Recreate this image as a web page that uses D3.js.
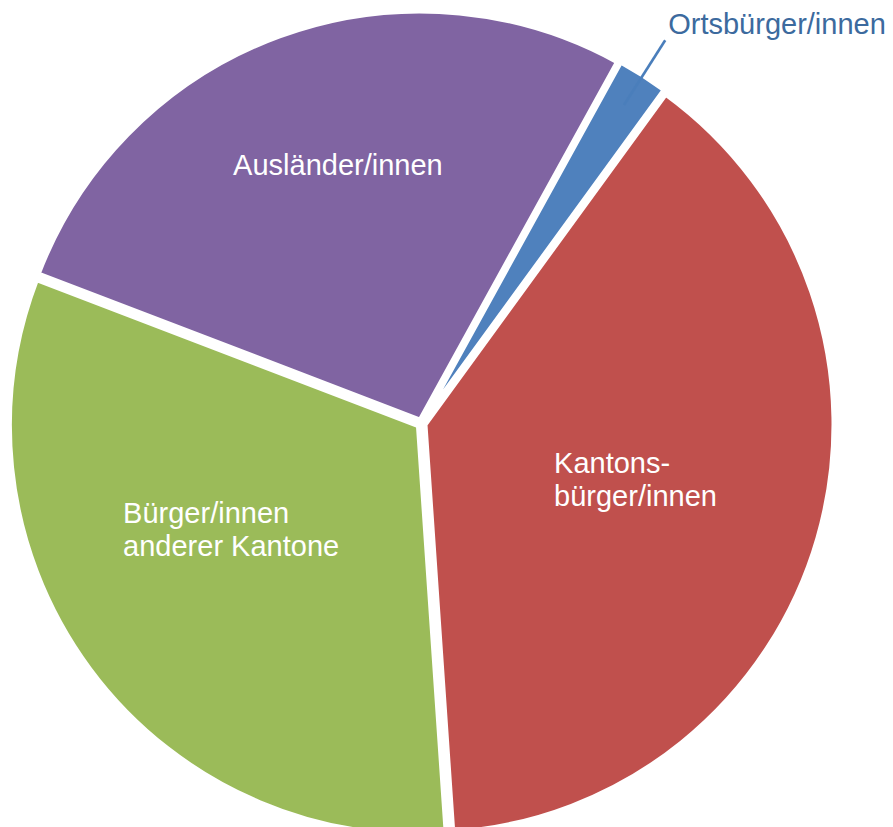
<!DOCTYPE html>
<html>
<head>
<meta charset="utf-8">
<script src="https://cdn.jsdelivr.net/npm/d3@7"></script>
<style>
  html, body { margin: 0; padding: 0; background: #fff; }
  svg { display: block; font-family: "Liberation Sans", Arial, sans-serif; }
</style>
</head>
<body>
<svg id="chart" width="893" height="827"></svg>
<script>
// data (share of population, %)
const categories = ['Ortsbürger/innen', 'Kantonsbürger/innen', 'Bürger/innen anderer Kantone', 'Ausländer/innen'];
const shares = [2.0, 38.9, 31.9, 27.2];
const labelLines = [
  ['Ortsbürger/innen'],
  ['Kantons-', 'bürger/innen'],
  ['Bürger/innen', 'anderer Kantone'],
  ['Ausländer/innen']
];
const colors = ['#4F81BD', '#C0504D', '#9BBB59', '#8064A2'];

class PieChartD3 {
  constructor(svgElement) {
    this.svgElement = svgElement;
    this.cx = 421.4;
    this.cy = 423.5;
    this.radius = 408.5;
    this.explode = 4;        // every slice pulled out a little
    this.fontSize = 29;
    this.lineHeight = 33;
    // label placement: fraction of radius and angle nudge (deg) from slice middle
    this.labelLayout = [
      null,
      { r: 0.542, da: -1.3 },
      { r: 0.533, da: 7.4 },
      { r: 0.665, da: 2.2 }
    ];

    this.svg = d3.select(svgElement)
      .append('g')
      .attr('transform', `translate(${this.cx},${this.cy})`);
  }

  render() {
    const data = categories.map((c, i) => ({ name: c, value: shares[i], lines: labelLines[i], idx: i }));

    const start = 28.86 * Math.PI / 180;
    const pie = d3.pie()
      .sort(null)
      .value(d => d.value)
      .startAngle(start)
      .endAngle(start + 2 * Math.PI);

    this.arcs = pie(data);
    this.color = d3.scaleOrdinal().domain(categories).range(colors);

    const arc = d3.arc().innerRadius(0).outerRadius(this.radius);

    // slices
    this.svg.selectAll('path.slice')
      .data(this.arcs)
      .join('path')
      .attr('class', 'slice')
      .attr('transform', d => {
        const [x, y] = this.polar(this.explode, this.mid(d));
        return `translate(${x},${y})`;
      })
      .attr('d', arc)
      .attr('fill', d => this.color(d.data.name))
      .attr('stroke', '#fff')
      .attr('stroke-width', 4.5)
      .attr('stroke-linejoin', 'miter');

    this.drawInsideLabels();
    this.drawOutsideLabel();
  }

  mid(d) {
    return (d.startAngle + d.endAngle) / 2;
  }

  polar(r, a) {
    return [r * Math.sin(a), -r * Math.cos(a)];
  }

  drawInsideLabels() {
    const inside = this.arcs.filter(d => this.labelLayout[d.data.idx]);

    inside.forEach(d => {
      const lay = this.labelLayout[d.data.idx];
      const a = this.mid(d) + lay.da * Math.PI / 180;
      const [x, y] = this.polar(lay.r * this.radius, a);

      const g = this.svg.append('g').attr('class', 'label');
      const n = d.data.lines.length;
      const baseline0 = y + 10 - (n - 1) * this.lineHeight / 2;

      const texts = g.selectAll('text')
        .data(d.data.lines)
        .join('text')
        .attr('y', (t, i) => baseline0 + i * this.lineHeight)
        .attr('fill', '#fff')
        .style('font-size', `${this.fontSize}px`)
        .text(t => t);

      // left aligned block, centred on the label point
      const maxW = d3.max(texts.nodes(), node => node.getComputedTextLength());
      texts.attr('x', x - maxW / 2);
    });
  }

  drawOutsideLabel() {
    const d = this.arcs[0];
    const a = this.mid(d);
    const [x1, y1] = this.polar(this.radius * 0.924, a);
    const [x2, y2] = this.polar(this.radius * 1.112, a);

    this.svg.append('line')
      .attr('x1', x1).attr('y1', y1)
      .attr('x2', x2).attr('y2', y2)
      .attr('stroke', '#4A7EBB')
      .attr('stroke-width', 2.6);

    this.svg.append('text')
      .attr('x', x2 + 3)
      .attr('y', y2 - 6)
      .attr('fill', '#3C6A9E')
      .style('font-size', `${this.fontSize}px`)
      .text(d.data.lines[0]);
  }
}

const chart = new PieChartD3(document.getElementById('chart'));
chart.render();
</script>
</body>
</html>
